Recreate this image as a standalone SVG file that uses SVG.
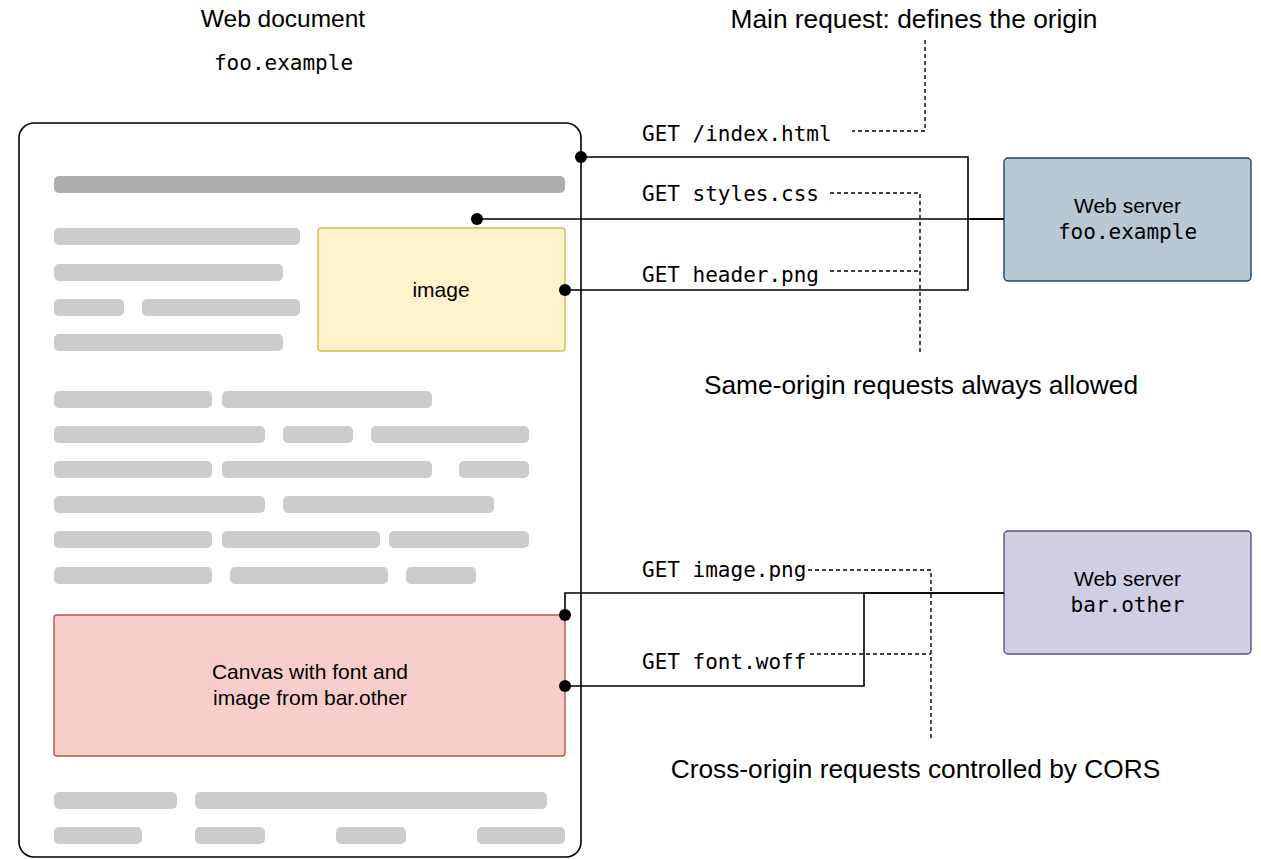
<svg xmlns="http://www.w3.org/2000/svg" width="1261" height="859" viewBox="0 0 1261 859">
<style>
.sans{font-family:"Liberation Sans",Arial,sans-serif;fill:#000}
.mono{font-family:"DejaVu Sans Mono","Liberation Mono",monospace;fill:#000}
.bar{fill:#cccccc}
.hdr{fill:#adadad}
.wire{fill:none;stroke:#000;stroke-width:1.6}
.dash{fill:none;stroke:#000;stroke-width:1.4;stroke-dasharray:4 3}
.dot{fill:#000}
</style>
<rect width="1261" height="859" fill="#ffffff"/>

<g id="title-doc">
<text class="sans" x="283" y="27" font-size="24.5" text-anchor="middle">Web document</text>
<text class="mono" x="283.5" y="70" font-size="21" text-anchor="middle">foo.example</text>
</g>

<g id="web-document">
<rect x="19" y="123" width="562" height="734" rx="15" fill="#ffffff" stroke="#000" stroke-width="1.6"/>
<rect class="hdr" x="54" y="176" width="511" height="17" rx="5"/>
<rect class="bar" x="54" y="228" width="246" height="17" rx="5"/>
<rect class="bar" x="54" y="264" width="229" height="17" rx="5"/>
<rect class="bar" x="54" y="299" width="70" height="17" rx="5"/>
<rect class="bar" x="142" y="299" width="158" height="17" rx="5"/>
<rect class="bar" x="54" y="334" width="229" height="17" rx="5"/>

<rect class="bar" x="54" y="391" width="158" height="17" rx="5"/>
<rect class="bar" x="222" y="391" width="210" height="17" rx="5"/>
<rect class="bar" x="54" y="426" width="211" height="17" rx="5"/>
<rect class="bar" x="283" y="426" width="70" height="17" rx="5"/>
<rect class="bar" x="371" y="426" width="158" height="17" rx="5"/>
<rect class="bar" x="54" y="461" width="158" height="17" rx="5"/>
<rect class="bar" x="222" y="461" width="210" height="17" rx="5"/>
<rect class="bar" x="459" y="461" width="70" height="17" rx="5"/>
<rect class="bar" x="54" y="496" width="211" height="17" rx="5"/>
<rect class="bar" x="283" y="496" width="211" height="17" rx="5"/>
<rect class="bar" x="54" y="531" width="158" height="17" rx="5"/>
<rect class="bar" x="222" y="531" width="158" height="17" rx="5"/>
<rect class="bar" x="389" y="531" width="140" height="17" rx="5"/>
<rect class="bar" x="54" y="567" width="158" height="17" rx="5"/>
<rect class="bar" x="230" y="567" width="158" height="17" rx="5"/>
<rect class="bar" x="406" y="567" width="70" height="17" rx="5"/>

<rect class="bar" x="54" y="792" width="123" height="17" rx="5"/>
<rect class="bar" x="195" y="792" width="352" height="17" rx="5"/>
<rect class="bar" x="54" y="827" width="88" height="17" rx="5"/>
<rect class="bar" x="195" y="827" width="70" height="17" rx="5"/>
<rect class="bar" x="336" y="827" width="70" height="17" rx="5"/>
<rect class="bar" x="477" y="827" width="88" height="17" rx="5"/>
</g>

<g id="image-box">
<rect x="318" y="228" width="247" height="123" rx="3" fill="#fff2cc" stroke="#d6b656" stroke-width="1.4"/>
<text class="sans" x="441" y="297" font-size="21" text-anchor="middle">image</text>
</g>

<g id="canvas-box">
<rect x="54" y="615" width="511" height="141" rx="3" fill="#f8cecc" stroke="#b85450" stroke-width="1.4"/>
<text class="sans" x="310" y="679" font-size="21" text-anchor="middle">Canvas with font and</text>
<text class="sans" x="310" y="705" font-size="21" text-anchor="middle">image from bar.other</text>
</g>

<g id="server-foo">
<rect x="1004" y="158" width="247" height="123" rx="4" fill="#bac8d3" stroke="#23445d" stroke-width="1.4"/>
<text class="sans" x="1127.5" y="213" font-size="21" text-anchor="middle">Web server</text>
<text class="mono" x="1127.5" y="239" font-size="21" text-anchor="middle">foo.example</text>
</g>

<g id="server-bar">
<rect x="1004" y="531" width="247" height="123" rx="4" fill="#d0cee2" stroke="#56517e" stroke-width="1.4"/>
<text class="sans" x="1127.5" y="586" font-size="21" text-anchor="middle">Web server</text>
<text class="mono" x="1127.5" y="612" font-size="21" text-anchor="middle">bar.other</text>
</g>

<g id="connectors">
<path class="wire" d="M1004 219 H477"/>
<path class="wire" d="M1004 219 H968 V157 H581"/>
<path class="wire" d="M1004 219 H968 V290 H565"/>
<path class="wire" d="M1004 593 H565 V615"/>
<path class="wire" d="M1004 593 H864 V686 H565"/>
<circle class="dot" cx="581" cy="157" r="6"/>
<circle class="dot" cx="477" cy="219" r="6"/>
<circle class="dot" cx="565" cy="290" r="6"/>
<circle class="dot" cx="565" cy="615" r="6"/>
<circle class="dot" cx="565" cy="686" r="6"/>

<path class="dash" d="M925 40 V131 H852"/>
<path class="dash" d="M830 193 H920 V355"/>
<path class="dash" d="M830 271 H920"/>
<path class="dash" d="M808 570 H931 V740"/>
<path class="dash" d="M810 654 H931"/>
</g>

<g id="labels">
<text class="mono" x="642" y="141" font-size="21">GET /index.html</text>
<text class="mono" x="642" y="201" font-size="21">GET styles.css</text>
<text class="mono" x="642" y="282" font-size="21">GET header.png</text>
<text class="mono" x="642" y="577" font-size="21">GET image.png</text>
<text class="mono" x="642" y="669" font-size="21">GET font.woff</text>
<text class="sans" x="914" y="28" font-size="26.3" text-anchor="middle">Main request: defines the origin</text>
<text class="sans" x="921" y="394" font-size="26.3" text-anchor="middle">Same-origin requests always allowed</text>
<text class="sans" x="915.5" y="778" font-size="26.3" text-anchor="middle">Cross-origin requests controlled by CORS</text>
</g>
</svg>
